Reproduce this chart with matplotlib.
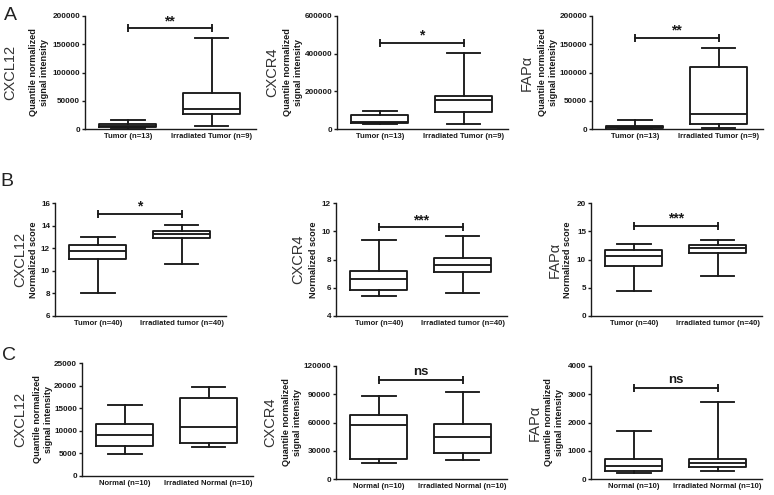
import matplotlib
matplotlib.use("Agg")
import matplotlib.pyplot as plt

plt.rcParams['font.family'] = ['Liberation Sans', 'DejaVu Sans']

# ---------------- data (whislo, q1, median, q3, whishi) ----------------
groups_A = ["Tumor (n=13)", "Irradiated Tumor (n=9)"]
groups_B = ["Tumor (n=40)", "Irradiated tumor (n=40)"]
groups_C = ["Normal (n=10)", "Irradiated Normal (n=10)"]

A_cxcl12_tumor = [1000, 3000, 6000, 9000, 16500]
A_cxcl12_irr = [5300, 26500, 35900, 63500, 160600]
A_cxcr4_tumor = [25000, 30000, 37000, 76000, 93500]
A_cxcr4_irr = [24700, 88000, 155000, 173000, 402000]
A_fap_tumor = [600, 1800, 3500, 5900, 15300]
A_fap_irr = [1800, 9400, 25900, 110600, 144000]

B_cxcl12_tumor = [8.0, 11.01, 11.76, 12.29, 12.96]
B_cxcl12_irr = [10.57, 12.94, 13.27, 13.54, 14.07]
B_cxcr4_tumor = [5.40, 5.82, 6.61, 7.18, 9.39]
B_cxcr4_irr = [5.61, 7.11, 7.61, 8.13, 9.65]
B_fap_tumor = [4.45, 8.9, 10.68, 11.69, 12.7]
B_fap_irr = [7.0, 11.1, 11.99, 12.58, 13.47]

C_cxcl12_normal = [4900, 6700, 9000, 11500, 15800]
C_cxcl12_irr = [6400, 7300, 10800, 17300, 19800]
C_cxcr4_normal = [16600, 21500, 57500, 67800, 88600]
C_cxcr4_irr = [20500, 27900, 44800, 57900, 92100]
C_fap_normal = [224, 282, 459, 718, 1706]
C_fap_irr = [294, 424, 576, 718, 2729]

genes = ["CXCL12", "CXCR4", "FAP\u03b1"]
ylabel_A = "Quantile normalized\nsignal intensity"
ylabel_B = "Normalized score"
ylabel_C = "Quantile normalized\nsignal intensity"

yticks_A = [[0, 50000, 100000, 150000, 200000],
            [0, 200000, 400000, 600000],
            [0, 50000, 100000, 150000, 200000]]
yticks_B = [[6, 8, 10, 12, 14, 16],
            [4, 6, 8, 10, 12],
            [0, 5, 10, 15, 20]]
yticks_C = [[0, 5000, 10000, 15000, 20000, 25000],
            [0, 30000, 60000, 90000, 120000],
            [0, 1000, 2000, 3000, 4000]]

sig_A = ["**", "*", "**"]
sig_A_y = [178000, 459000, 161800]
sig_B = ["*", "***", "***"]
sig_B_y = [15.05, 10.29, 16.0]
sig_C = [None, "ns", "ns"]
sig_C_y = [None, 105500, 3224]

# ---------------- figure ----------------
W, H = 774, 495
fig = plt.figure(figsize=(W / 100, H / 100), dpi=100)
LC = '#1a1a1a'


def rect(l, t, w, h):
    return [l / W, 1 - (t + h) / H, w / W, h / H]


def stats(vals, label):
    lo, q1, med, q3, hi = vals
    return dict(whislo=lo, q1=q1, med=med, q3=q3, whishi=hi, label=label, fliers=[])


def panel(left, top, data, labels, yticks, sig, sig_y, gene, ylab,
          big_x, small_x):
    ax = fig.add_axes(rect(left, top, 171, 113))
    st = [stats(data[0], labels[0]), stats(data[1], labels[1])]
    lp = dict(color=LC, linewidth=1.35)
    ax.bxp(st, positions=[0, 1], widths=0.68, capwidths=0.4, showfliers=False,
           boxprops=lp, whiskerprops=lp, capprops=lp, medianprops=lp,
           manage_ticks=False)
    ax.set_xlim(-0.51, 1.53)
    ax.set_ylim(yticks[0], yticks[-1])
    ax.set_yticks(yticks)
    ax.set_yticklabels([str(v) for v in yticks], fontsize=5.9, fontweight='bold', color=LC)
    ax.set_xticks([0, 1])
    ax.set_xticklabels(labels, fontsize=5.5, fontweight='bold', color=LC)
    ax.tick_params(axis='x', length=0, pad=3)
    ax.tick_params(axis='y', length=2.5, width=1.0, pad=1, color=LC)
    for s in ['top', 'right']:
        ax.spines[s].set_visible(False)
    for s in ['left', 'bottom']:
        ax.spines[s].set_linewidth(1.0)
        ax.spines[s].set_color(LC)
    if sig is not None:
        ax.plot([0, 1], [sig_y, sig_y], color=LC, lw=1.35, marker='|',
                markersize=6, markeredgewidth=1.35, clip_on=False)
        if sig == 'ns':
            ax.annotate(sig, xy=(0.5, sig_y), xytext=(0, 1.5), textcoords='offset points',
                        ha='center', va='bottom', fontsize=9.5, fontweight='bold', color=LC)
        else:
            ax.annotate(sig, xy=(0.5, sig_y), xytext=(0, 0), textcoords='offset points',
                        ha='center', va='bottom', fontsize=10, fontweight='bold', color=LC)
    cy = 1 - (top + 56.5) / H
    fig.text(big_x / W, cy, gene, rotation=90, ha='center', va='center',
             fontsize=10.5, color='#333333')
    fig.text(small_x / W, cy, ylab, rotation=90, ha='center', va='center',
             fontsize=6.6, fontweight='bold', color=LC, linespacing=1.15,
             multialignment='center')
    return ax


# Row A
panel(85, 16, [A_cxcl12_tumor, A_cxcl12_irr], groups_A, yticks_A[0], sig_A[0], sig_A_y[0],
      genes[0], ylabel_A, 10, 39)
panel(337, 16, [A_cxcr4_tumor, A_cxcr4_irr], groups_A, yticks_A[1], sig_A[1], sig_A_y[1],
      genes[1], ylabel_A, 272, 293)
panel(592, 16, [A_fap_tumor, A_fap_irr], groups_A, yticks_A[2], sig_A[2], sig_A_y[2],
      genes[2], ylabel_A, 527, 548)

# Row B
panel(55, 203, [B_cxcl12_tumor, B_cxcl12_irr], groups_B, yticks_B[0], sig_B[0], sig_B_y[0],
      genes[0], ylabel_B, 20, 34)
panel(336, 203, [B_cxcr4_tumor, B_cxcr4_irr], groups_B, yticks_B[1], sig_B[1], sig_B_y[1],
      genes[1], ylabel_B, 298, 313)
panel(591, 203, [B_fap_tumor, B_fap_irr], groups_B, yticks_B[2], sig_B[2], sig_B_y[2],
      genes[2], ylabel_B, 555, 568)

# Row C
panel(82, 363, [C_cxcl12_normal, C_cxcl12_irr], groups_C, yticks_C[0], sig_C[0], sig_C_y[0],
      genes[0], ylabel_C, 20, 43)
panel(336, 366, [C_cxcr4_normal, C_cxcr4_irr], groups_C, yticks_C[1], sig_C[1], sig_C_y[1],
      genes[1], ylabel_C, 270, 292)
panel(591, 366, [C_fap_normal, C_fap_irr], groups_C, yticks_C[2], sig_C[2], sig_C_y[2],
      genes[2], ylabel_C, 535, 554)

# Panel letters
fig.text(10 / W, 1 - 15 / H, "A", ha='center', va='center', fontsize=14, color='#222222')
fig.text(7 / W, 1 - 182 / H, "B", ha='center', va='center', fontsize=14, color='#222222')
fig.text(9 / W, 1 - 355 / H, "C", ha='center', va='center', fontsize=14, color='#222222')

fig.savefig("out.png", dpi=100)
